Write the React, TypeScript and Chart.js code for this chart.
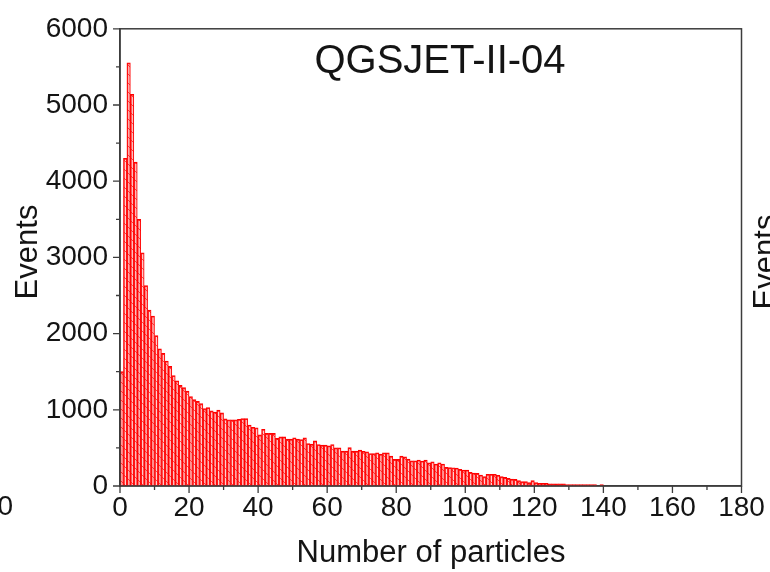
import { useEffect, useRef } from 'react';
import { Chart, registerables } from 'chart.js';

Chart.register(...registerables);

// Histogram of the number of particles per event, one-unit bins starting at 0
const eventCounts: number[] = [
  1500, 4300, 5555, 5140, 4250, 3500, 3060, 2630, 2310, 2230,
  1975, 1800, 1740, 1640, 1570, 1450, 1380, 1320, 1290, 1245,
  1175, 1135, 1110, 1080, 1015, 1030, 985, 970, 995, 960,
  880, 870, 870, 870, 875, 885, 885, 800, 770, 765,
  670, 745, 690, 690, 690, 625, 645, 645, 615, 615,
  632, 615, 610, 632, 557, 549, 592, 545, 536, 536,
  527, 545, 501, 501, 458, 458, 505, 458, 458, 471,
  455, 449, 427, 427, 436, 418, 436, 436, 392, 349,
  349, 392, 383, 353, 331, 331, 340, 327, 340, 305,
  318, 288, 305, 288, 244, 242, 240, 236, 218, 209,
  209, 179, 170, 166, 144, 122, 153, 153, 153, 140,
  122, 113, 100, 90, 87, 70, 57, 57, 44, 70,
  44, 35, 35, 35, 28, 28, 28, 28, 28, 20,
  20, 20, 20, 20, 20, 20, 20, 20, 0, 20,
];
const binCentres: number[] = eventCounts.map((_, i) => i + 0.5);

const xMajorTicks: number[] = [0, 20, 40, 60, 80, 100, 120, 140, 160, 180];
const xMinorTicks: number[] = [10, 30, 50, 70, 90, 110, 130, 150, 170];
const yMajorTicks: number[] = [0, 1000, 2000, 3000, 4000, 5000, 6000];
const yMinorTicks: number[] = [500, 1500, 2500, 3500, 4500, 5500];

const panelTitle = 'QGSJET-II-04';
const xAxisTitle = 'Number of particles';
const yAxisTitle = 'Events';
const leftNeighbourLabel = '0';

const FONT = '"Liberation Sans", Arial, Helvetica, sans-serif';
const AXIS_COLOR = '#3c3c3c';
const TEXT_COLOR = '#141414';
const BAR_RED = '#ff0000';

function makeHatch(): CanvasPattern | string {
  const c = document.createElement('canvas');
  c.width = 9;
  c.height = 9;
  const g = c.getContext('2d');
  if (!g) return 'rgba(255,120,120,0.35)';
  g.fillStyle = 'rgba(255,120,120,0.34)';
  g.fillRect(0, 0, 9, 9);
  g.strokeStyle = 'rgba(255,0,0,0.65)';
  g.lineWidth = 1;
  g.beginPath();
  g.moveTo(-1, -1);
  g.lineTo(10, 10);
  g.stroke();
  const p = g.createPattern(c, 'repeat');
  return p ?? 'rgba(255,120,120,0.35)';
}

const decorPlugin = {
  id: 'decor',
  afterDraw(chart: any) {
    const { ctx, chartArea: a, scales } = chart;
    const x = scales.x;
    const y = scales.y;
    ctx.save();
    ctx.strokeStyle = AXIS_COLOR;
    ctx.lineWidth = 1.5;
    ctx.strokeRect(a.left, a.top, a.right - a.left, a.bottom - a.top);

    ctx.lineWidth = 1.3;
    ctx.beginPath();
    const tick = (x0: number, y0: number, x1: number, y1: number) => {
      ctx.moveTo(x0, y0);
      ctx.lineTo(x1, y1);
    };
    xMajorTicks.forEach((v) => {
      const px = x.getPixelForValue(v);
      tick(px, a.bottom, px, a.bottom + 7);
    });
    xMinorTicks.forEach((v) => {
      const px = x.getPixelForValue(v);
      tick(px, a.bottom, px, a.bottom + 4);
    });
    yMajorTicks.forEach((v) => {
      const py = y.getPixelForValue(v);
      tick(a.left, py, a.left - 7, py);
    });
    yMinorTicks.forEach((v) => {
      const py = y.getPixelForValue(v);
      tick(a.left, py, a.left - 4, py);
    });
    ctx.stroke();

    ctx.fillStyle = TEXT_COLOR;
    // panel label
    ctx.font = `40px ${FONT}`;
    ctx.textAlign = 'center';
    ctx.textBaseline = 'alphabetic';
    ctx.fillText(panelTitle, 440, 73);

    // axis titles
    ctx.font = `31px ${FONT}`;
    ctx.fillText(xAxisTitle, 431, 562);

    ctx.save();
    ctx.translate(37, 252);
    ctx.rotate(-Math.PI / 2);
    ctx.fillText(yAxisTitle, 0, 0);
    ctx.restore();

    // pieces of the neighbouring panels
    ctx.save();
    ctx.translate(775, 262);
    ctx.rotate(-Math.PI / 2);
    ctx.fillText(yAxisTitle, 0, 0);
    ctx.restore();

    ctx.font = `28px ${FONT}`;
    ctx.textAlign = 'right';
    ctx.fillText(leftNeighbourLabel, 13, 515);
    ctx.restore();
  },
};

export default function App() {
  const ref = useRef<HTMLCanvasElement | null>(null);

  useEffect(() => {
    const canvas = ref.current;
    if (!canvas) return;
    const chart = new Chart(canvas, {
      type: 'bar',
      data: {
        datasets: [
          {
            data: binCentres.map((c, i) => ({ x: c, y: eventCounts[i] })),
            backgroundColor: makeHatch() as any,
            borderColor: BAR_RED,
            borderWidth: { left: 1, right: 0.6, top: 1.2, bottom: 0 } as any,
            borderSkipped: false,
            barPercentage: 1,
            categoryPercentage: 1,
          },
        ],
      },
      options: {
        responsive: false,
        animation: false,
        devicePixelRatio: 1,
        layout: { padding: { left: 0, top: 27, right: 28.5, bottom: 0 } },
        plugins: {
          legend: { display: false },
          tooltip: { enabled: false },
          title: { display: false },
        },
        scales: {
          x: {
            type: 'linear',
            offset: false,
            min: 0,
            max: 180,
            afterFit: (s: any) => {
              s.height = 86;
            },
            afterBuildTicks: (s: any) => {
              s.ticks = xMajorTicks.map((v) => ({ value: v }));
            },
            grid: { display: false, drawTicks: false, offset: false },
            border: { display: true, color: AXIS_COLOR, width: 1.5 },
            ticks: {
              autoSkip: false,
              maxRotation: 0,
              padding: 5,
              color: TEXT_COLOR,
              font: { family: FONT, size: 28 },
            },
          },
          y: {
            type: 'linear',
            min: 0,
            max: 6000,
            afterFit: (s: any) => {
              s.width = 120;
            },
            afterBuildTicks: (s: any) => {
              s.ticks = yMajorTicks.map((v) => ({ value: v }));
            },
            grid: { display: false, drawTicks: false },
            border: { display: true, color: AXIS_COLOR, width: 1.5 },
            ticks: {
              padding: 12,
              color: TEXT_COLOR,
              font: { family: FONT, size: 28 },
              callback: (v: any) => String(v),
            },
          },
        },
      },
      plugins: [decorPlugin],
    });
    return () => chart.destroy();
  }, []);

  return (
    <div style={{ position: 'absolute', left: 0, top: 0, width: 770, height: 572, background: '#fff', overflow: 'hidden' }}>
      <canvas ref={ref} width={770} height={572} style={{ display: 'block' }} />
    </div>
  );
}
